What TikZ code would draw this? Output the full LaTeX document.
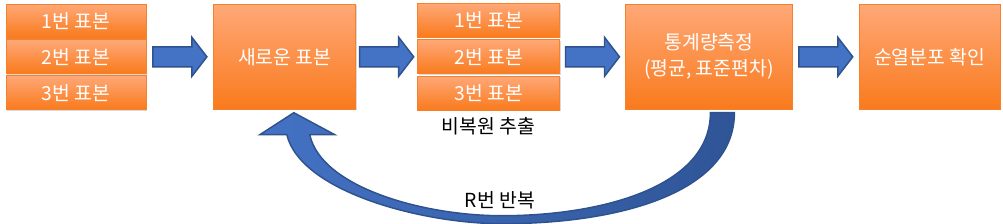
\documentclass[tikz,border=0pt]{standalone}
\usepackage{fontspec}
\setmainfont{Noto Sans CJK KR}
\usetikzlibrary{positioning, calc, shadows}
\definecolor{otop}{HTML}{FFA877}
\definecolor{obot}{HTML}{F97A1C}
\definecolor{oline}{HTML}{F4812C}
\definecolor{bfill}{HTML}{4472C4}
\definecolor{bdark}{HTML}{2F5597}
\definecolor{bline}{HTML}{2F528F}
% block arrow between two side-by-side nodes
\newcommand{\blkarrow}[2]{%
  \draw[blk] ($(#1.east)!0.5!(#2.west)$) ++(-27,-10) -- ++(39,0) -- ++(0,-9.5)
    -- ++(15,19.5) -- ++(-15,19.5) -- ++(0,-9.5) -- ++(-39,0) -- cycle;}

\begin{document}
\begin{tikzpicture}[
  x=0.75pt, y=0.75pt,
  font=\fontsize{14.5}{19.5}\selectfont,
  node distance=0.75pt,
  box/.style={draw=oline, line width=0.6pt, top color=otop, bottom color=obot,
              text=white, align=center, inner sep=0pt,
              drop shadow={shadow xshift=0.8pt, shadow yshift=-0.8pt, opacity=0.3}},
  sbox/.style={box, minimum width=105pt, minimum height=25.5pt},
  bigbox/.style={box, minimum height=78.75pt},
  blk/.style={draw=bline, fill=bfill, line width=1.1pt, line join=miter},
  loopar/.style={draw=bline, line width=1.1pt, left color=bfill, right color=bdark},
  lbl/.style={text=black},
  ]
\useasboundingbox (0,0) rectangle (1003,-223);
% ---- stack 1: original samples
\node[sbox] (s1a) at (76,-21) {1번 표본};
\node[sbox, below=of s1a] (s1b) {2번 표본};
\node[sbox, below=of s1b] (s1c) {3번 표본};
% ---- new pooled sample
\node[bigbox, minimum width=106.5pt, right=50.25pt of s1b] (new) {새로운 표본};
% ---- stack 2: drawn without replacement
\node[sbox, minimum width=106.5pt, right=45.75pt of new] (s2b) {2번 표본};
\node[sbox, minimum width=106.5pt, above=1.2pt of s2b] (s2a) {1번 표본};
\node[sbox, minimum width=106.5pt, below=1.2pt of s2b] (s2c) {3번 표본};
\node[lbl, below=1.5pt of s2c] (nores) {비복원 추출};
% ---- statistic + result
\node[bigbox, minimum width=125.25pt, right=48.75pt of s2b] (stat)
  {통계량측정\\(평균, 표준편차)};
\node[bigbox, minimum width=105.75pt, right=49.5pt of stat] (final) {순열분포 확인};
% block arrows
\blkarrow{s1b}{new}
\blkarrow{new}{s2b}
\blkarrow{s2b}{stat}
\blkarrow{stat}{final}
% loop back: stat -> new
\coordinate (tailr) at ($(stat.south)+(25.5,-3)$);
\coordinate (taill) at ($(stat.south)+(1.5,-3)$);
\coordinate (tip) at ($(new.south)+(9,-3)$);
\coordinate (loopo) at ($(new.south)!0.5!(stat.south)+(5,-114)$);
\coordinate (loopi) at ($(loopo)+(0,8)$);
\path[loopar] (tailr) .. controls +(0,-79) and +(120,0) .. (loopo)
  .. controls +(-80,0) and +(14,-57) .. ($(tip)+(-7,-22)$)
  -- ++(-27,0) -- (tip) -- ($(tip)+(41,-22)$) -- ++(-25,0)
  .. controls +(11,-52) and +(-80,0) .. (loopi)
  .. controls +(100,0) and +(0,-74) .. (taill) -- cycle;
\node[lbl] (rep) at ($(loopo)+(-2,23)$) {R번 반복};
\end{tikzpicture}
\end{document}
